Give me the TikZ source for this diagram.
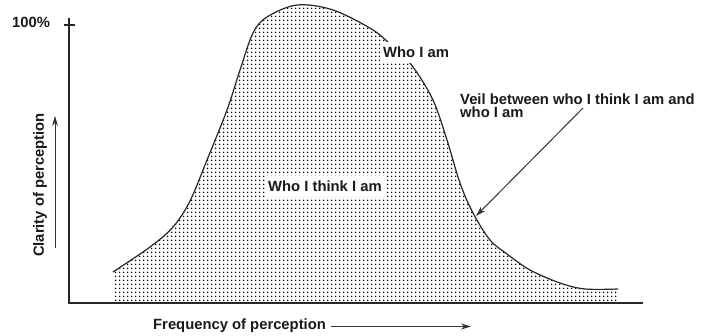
\documentclass[tikz,border=0pt]{standalone}
\usepackage{fontspec}
\setmainfont{Liberation Sans}
\usetikzlibrary{patterns.meta,arrows.meta}
\begin{document}
\begin{tikzpicture}[x=1pt,y=-1pt,
  lbl/.style={font=\bfseries\fontsize{14.8}{13.5}\selectfont, text=black!90, inner sep=0pt},
  whitebox/.style={fill=white, inner xsep=3pt, inner ysep=5pt},
  axisline/.style={line width=1.3pt, draw=black!85},
  curveline/.style={line width=1.2pt, draw=black!85},
  pointer/.style={line width=1pt, draw=black!80, -{Stealth[length=10pt,width=6pt]}},
  dotfill/.style={pattern={Dots[distance=4pt,radius=1pt]}, pattern color=black},
]
\useasboundingbox (0,0) rectangle (717,336);

% axes
\coordinate (origin) at (69,303);
\coordinate (ytop) at (69,18);
\coordinate (xend) at (643,303);
\coordinate (tickl) at (64,25);
\coordinate (tickr) at (75,25);

% dotted region
\path[dotfill] (113,303) -- plot[smooth, tension=0.55] coordinates {
  (113,272) (150,247) (173,227) (190,201) (207,160) (227,110) (240,70)
  (253,33) (267,17) (297,5) (333,10) (373,30) (395,49) (413,67) (433,100)
  (447,140) (460,183) (473,213) (490,240) (507,254) (530,270) (560,283)
  (585,289) (618,289)} -- (618,303) -- cycle;

% curve outline
\draw[curveline] plot[smooth, tension=0.55] coordinates {
  (113,272) (150,247) (173,227) (190,201) (207,160) (227,110) (240,70)
  (253,33) (267,17) (297,5) (333,10) (373,30) (395,49) (413,67) (433,100)
  (447,140) (460,183) (473,213) (490,240) (507,254) (530,270) (560,283)
  (585,289) (618,289)};

\draw[axisline] (ytop) -- (origin) -- (xend);
\draw[axisline] (tickl) -- (tickr);

% labels
\node[lbl, anchor=base west] (pct) at (12,27.5) {100\%};
\node[lbl, rotate=90] (clarity) at (40,185) {Clarity of perception};
\coordinate (clarbot) at (55,248);
\coordinate (clartop) at (55,116);
\draw[pointer] (clarbot) -- (clartop);

\node[lbl, anchor=base west] (freq) at (153,330) {Frequency of perception};
\coordinate (freqend) at (471,326.5);
\draw[pointer] (freq.east |- freqend) ++(5,0) coordinate (freqstart) -- (freqend);

\node[lbl, whitebox, anchor=base west] (whoami) at (380,58) {Who I am};
\node[lbl, whitebox, anchor=base west] (think) at (265,192) {Who I think I am};

\node[lbl, anchor=north west, align=left] (veil) at (460,93.5) {Veil between who I think I am and\\who I am};
\coordinate (veilstart) at (583,108);
\coordinate (veiltip) at (476,216);
\draw[pointer] (veilstart) -- (veiltip);
\end{tikzpicture}
\end{document}
